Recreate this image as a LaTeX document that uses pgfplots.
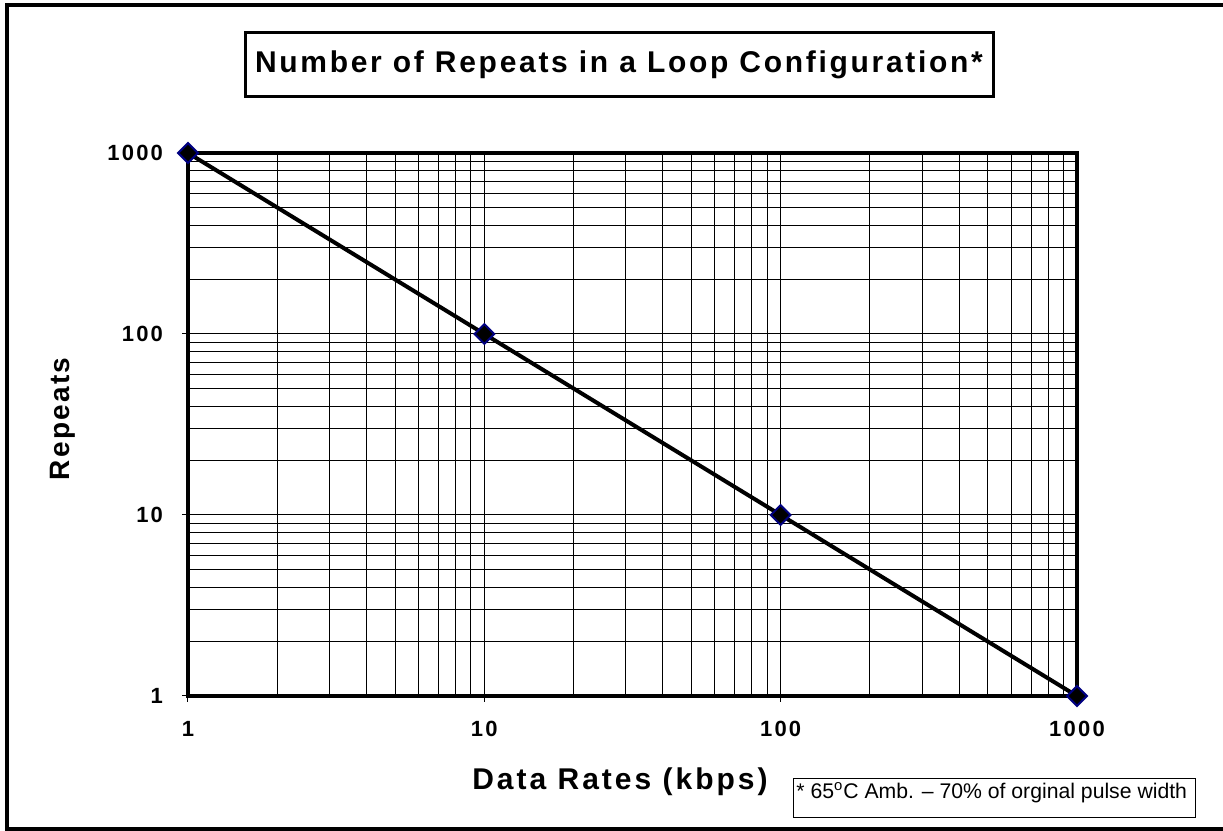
\documentclass[border=0pt]{standalone}
\usepackage{fontspec}
\setmainfont{Liberation Sans}
\usepackage{pgfplots}
\pgfplotsset{compat=1.18}
\definecolor{mk}{RGB}{0,0,128}
\begin{document}
\begin{tikzpicture}
\useasboundingbox (0,0) rectangle (611.5pt,415.5pt);
\begin{scope}
\clip (0,0) rectangle (611.5pt,415.5pt);
\draw[line width=2pt] (3.5pt,1pt) rectangle (640pt,413pt);
\end{scope}
\begin{axis}[at={(94pt,67.5pt)}, anchor=south west, scale only axis,
  width=444.5pt, height=271.5pt,
  xmode=log, ymode=log, xmin=1, xmax=1000, ymin=1, ymax=1000,
  xtick={1,10,100,1000}, xticklabels={1,10,100,1000},
  ytick={1,10,100,1000}, yticklabels={1,10,100,1000},
  xtick pos=bottom, ytick pos=left,
  grid=both,
  major grid style={black, line width=0.5pt},
  minor grid style={black, line width=0.5pt},
  axis line style={line width=2pt},
  tick align=outside, major tick length=3pt, minor tick length=0pt,
  tick style={black, line width=0.5pt},
  ticklabel style={font=\fontsize{11}{13}\bfseries\selectfont\addfontfeature{LetterSpace=10}},
  yticklabel style={xshift=-6pt},
  xticklabel style={yshift=-6pt},
  clip=false]
\addplot[black, line width=2pt, mark=square*, mark size=3.5pt,
  mark options={fill=black, draw=mk, line width=1pt, rotate=45}]
  coordinates {(1,1000) (10,100) (100,10) (1000,1)};
\end{axis}
\draw[line width=1.5pt] (122.5pt,367pt) rectangle (496.5pt,399pt);
\node at (309.5pt,383pt) {\fontsize{15}{17}\bfseries\selectfont\addfontfeature{LetterSpace=9}Number of Repeats in a Loop Configuration*};
\node at (310pt,24.5pt) {\fontsize{15}{17}\bfseries\selectfont\addfontfeature{LetterSpace=10}Data Rates (kbps)};
\node[rotate=90] at (31.5pt,206pt) {\fontsize{14}{16}\bfseries\selectfont\addfontfeature{LetterSpace=8}Repeats};
\draw[line width=0.5pt] (396.5pt,6.5pt) rectangle (597.5pt,26pt);
\node[anchor=north west, inner sep=1pt] at (397pt,25.5pt) {\fontsize{10.6}{12}\selectfont * 65\textsuperscript{o}C Amb. -- 70\% of orginal pulse width};
\end{tikzpicture}
\end{document}
